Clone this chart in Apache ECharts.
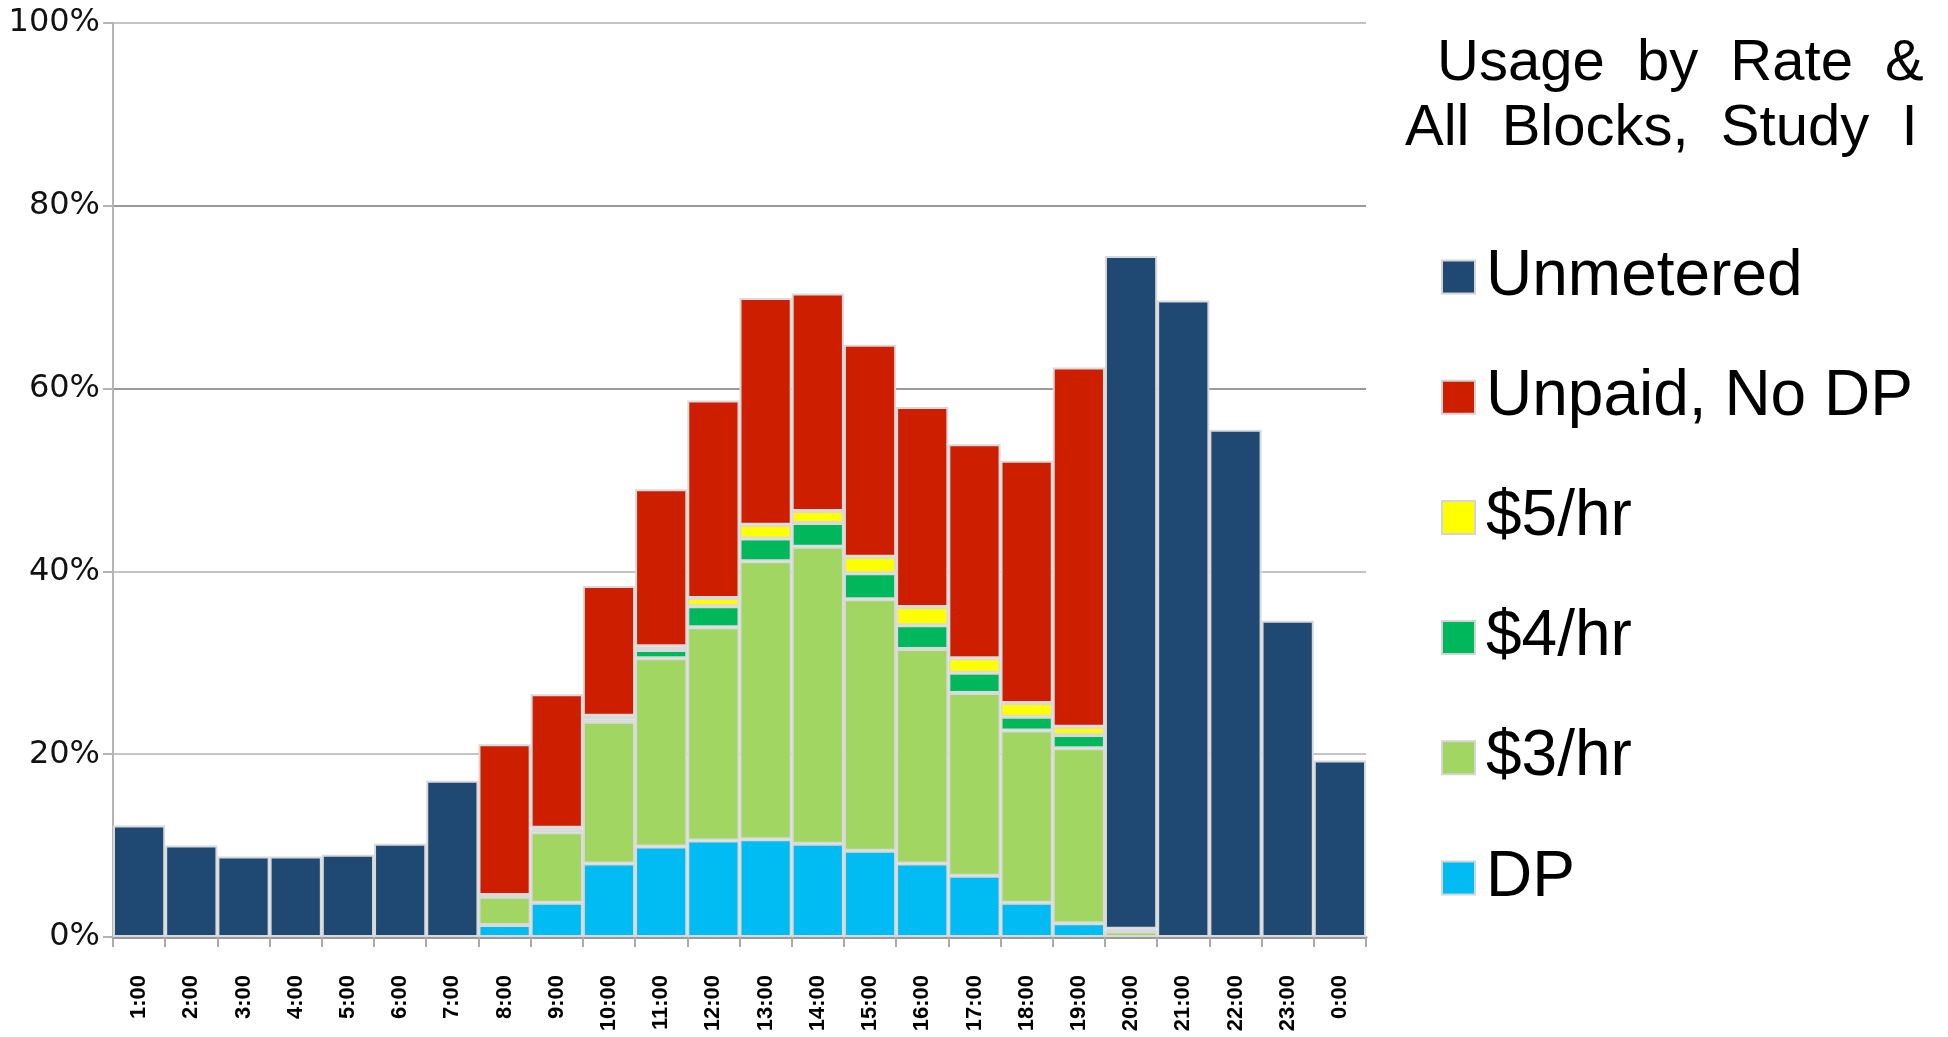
<!DOCTYPE html>
<html>
<head>
<meta charset="utf-8">
<title>Usage by Rate</title>
<script src="https://cdn.jsdelivr.net/npm/echarts@6/dist/echarts.min.js"></script>
<style>
  html, body { margin: 0; padding: 0; background: #ffffff; }
  #chart { width: 1948px; height: 1037px; }
</style>
</head>
<body>
<div id="chart"></div>
<script>
// Hour of day (bar categories)
const hours = ['1:00','2:00','3:00','4:00','5:00','6:00','7:00','8:00','9:00','10:00','11:00','12:00',
               '13:00','14:00','15:00','16:00','17:00','18:00','19:00','20:00','21:00','22:00','23:00','0:00'];

// Share of spaces occupied, percent, per rate class (stacked bottom to top)
const dp        = [null,null,null,null,null,null,null, 1.3, 3.75, 8.05, 9.9, 10.55, 10.7, 10.2, 9.45, 8.05, 6.7, 3.75, 1.5, null, null,null,null,null];
const rate3     = [null,null,null,null,null,null,null, 3.1, 7.7, 15.5, 20.6, 23.35, 30.4, 32.5, 27.5, 23.45, 20.0, 18.85, 19.15, 0.6, null,null,null,null];
const rate4     = [null,null,null,null,null,null,null, 0.1, 0.3, 0.25, 0.9, 2.3, 2.5, 2.6, 2.85, 2.6, 2.2, 1.5, 1.45, 0.1, null,null,null,null];
const rate5     = [null,null,null,null,null,null,null, 0.1, 0.2, 0.4, 0.4, 0.9, 1.5, 1.3, 1.8, 2.0, 1.6, 1.5, 0.9, null, null,null,null,null];
const unpaid    = [null,null,null,null,null,null,null, 16.5, 14.6, 14.2, 17.2, 21.6, 24.8, 23.8, 23.2, 21.9, 23.4, 26.5, 39.3, 0.2, null,null,null,null];
const unmetered = [12.2, 10.0, 8.8, 8.8, 9.0, 10.2, 17.1, null,null,null,null,null,null,null,null,null,null,null,null, 73.6, 69.65, 55.5, 34.6, 19.3];

// Y axis ticks
const yTicks = { min: 0, max: 100, interval: 20 };

const legendOrder = ['Unmetered', 'Unpaid, No DP', '$5/hr', '$4/hr', '$3/hr', 'DP'];

const colors = {
  'DP': '#00BCF2',
  '$3/hr': '#A1D662',
  '$4/hr': '#00B85C',
  '$5/hr': '#FFFF00',
  'Unpaid, No DP': '#CE1E00',
  'Unmetered': '#1F4973'
};

function barSeries(name, data) {
  return {
    name: name,
    type: 'bar',
    stack: 'usage',
    data: data,
    barCategoryGap: '0%',
    itemStyle: { color: colors[name], borderColor: '#d9d9d9', borderWidth: 2 },
    emphasis: { disabled: true }
  };
}

const chart = echarts.init(document.getElementById('chart'), null, { renderer: 'canvas' });

chart.setOption({
  backgroundColor: '#ffffff',
  animation: false,
  grid: { left: 113, right: 582, top: 23, bottom: 100, containLabel: false },
  legend: {
    orient: 'vertical',
    left: 1436,
    top: 240,
    data: legendOrder,
    icon: 'rect',
    itemWidth: 33,
    itemHeight: 33,
    itemGap: 56.2,
    itemStyle: { borderColor: '#d4d4d4', borderWidth: 2 },
    selectedMode: false,
    textStyle: {
      fontFamily: 'Liberation Sans',
      fontSize: 64,
      lineHeight: 64,
      color: '#000',
      padding: [0, 0, 0, 6]
    }
  },
  xAxis: {
    type: 'category',
    data: hours,
    axisLine: { lineStyle: { color: '#9a9a9a', width: 3 } },
    axisTick: { show: true, length: 10, lineStyle: { color: '#aaaaaa', width: 2 } },
    axisLabel: {
      rotate: 90,
      margin: 38,
      interval: 0,
      fontFamily: 'Liberation Sans',
      fontWeight: 'bold',
      fontSize: 22,
      color: '#000'
    },
    splitLine: { show: false }
  },
  yAxis: {
    type: 'value',
    min: yTicks.min,
    max: yTicks.max,
    interval: yTicks.interval,
    axisLine: { show: true, lineStyle: { color: '#b4b4b4', width: 2 } },
    axisTick: { show: true, length: 10, lineStyle: { color: '#b4b4b4', width: 2 } },
    axisLabel: {
      formatter: '{value}%',
      margin: 13,
      fontFamily: 'DejaVu Sans',
      fontSize: 32,
      color: '#111'
    },
    splitLine: {
      show: true,
      lineStyle: { color: ['#9a9a9a', '#c4c4c4', '#c4c4c4', '#9a9a9a', '#9a9a9a', '#c4c4c4'], width: 2 }
    }
  },
  graphic: [
    {
      type: 'text',
      left: 1437,
      top: 35,
      style: { text: 'Usage  by  Rate  &', font: '58px "Liberation Sans"', fill: '#000' }
    },
    {
      type: 'text',
      left: 1405,
      top: 100,
      style: { text: 'All  Blocks,  Study  I', font: '58px "Liberation Sans"', fill: '#000' }
    }
  ],
  series: [
    barSeries('DP', dp),
    barSeries('$3/hr', rate3),
    barSeries('$4/hr', rate4),
    barSeries('$5/hr', rate5),
    barSeries('Unpaid, No DP', unpaid),
    barSeries('Unmetered', unmetered)
  ]
});
</script>
</body>
</html>
